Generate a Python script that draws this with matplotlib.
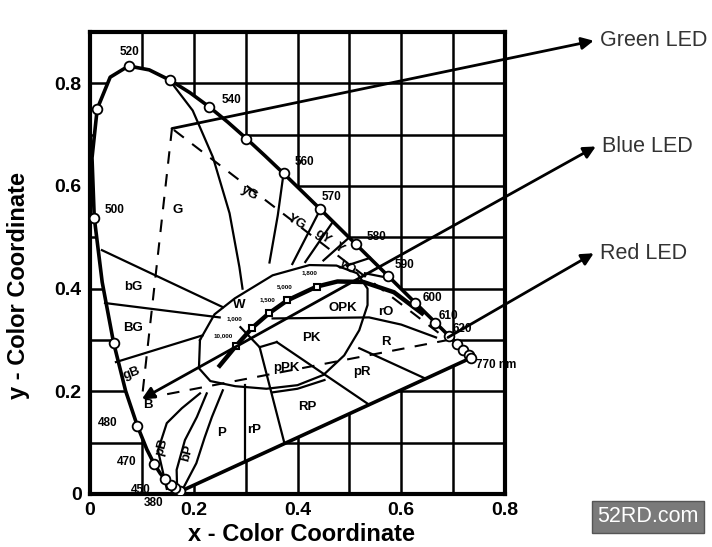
import numpy as np
import matplotlib.pyplot as plt

plt.rcParams['font.family'] = ['Liberation Sans', 'DejaVu Sans']

# CIE 1931 spectral locus (x, y) read along the horseshoe
locus_x = [0.1741, 0.1738, 0.1733, 0.1726, 0.1714, 0.1689, 0.1644, 0.1566, 0.1440, 0.1355,
           0.1241, 0.1096, 0.0913, 0.0687, 0.0454, 0.0235, 0.0082, 0.0039, 0.0139, 0.0389,
           0.0743, 0.1142, 0.1547, 0.1929, 0.2296, 0.2658, 0.3016, 0.3373, 0.3731, 0.4087,
           0.4441, 0.4788, 0.5125, 0.5448, 0.5752, 0.6029, 0.6270, 0.6482, 0.6658, 0.6915,
           0.7079, 0.7190, 0.7260, 0.7300, 0.7334, 0.7347]
locus_y = [0.0050, 0.0049, 0.0048, 0.0048, 0.0051, 0.0069, 0.0109, 0.0177, 0.0297, 0.0399,
           0.0578, 0.0868, 0.1327, 0.2007, 0.2950, 0.4127, 0.5384, 0.6548, 0.7502, 0.8120,
           0.8338, 0.8262, 0.8059, 0.7816, 0.7543, 0.7243, 0.6923, 0.6589, 0.6245, 0.5896,
           0.5547, 0.5202, 0.4866, 0.4544, 0.4242, 0.3965, 0.3725, 0.3514, 0.3340, 0.3083,
           0.2920, 0.2809, 0.2740, 0.2700, 0.2666, 0.2653]

# open circles on the locus
dot_x = [0.1741, 0.1644, 0.1566, 0.1440, 0.1241, 0.0913, 0.0454, 0.0082, 0.0139, 0.0743, 0.1547,
         0.2296, 0.3016, 0.3731, 0.4441, 0.5125, 0.5752, 0.6270, 0.6658, 0.6915, 0.7079,
         0.7190, 0.7300, 0.7347]
dot_y = [0.0050, 0.0109, 0.0177, 0.0297, 0.0578, 0.1327, 0.2950, 0.5384, 0.7502, 0.8338, 0.8059,
         0.7543, 0.6923, 0.6245, 0.5547, 0.4866, 0.4242, 0.3725, 0.3340, 0.3083, 0.2920,
         0.2809, 0.2700, 0.2653]

# wavelength labels
wl_text = ['520', '540', '560', '570', '580', '590', '600', '610', '620', '770 nm',
           '500', '480', '470', '450', '380']
wl_x = [0.077, 0.273, 0.413, 0.465, 0.552, 0.606, 0.66, 0.69, 0.718, 0.745,
        0.048, 0.035, 0.07, 0.098, 0.123]
wl_y = [0.862, 0.767, 0.646, 0.578, 0.50, 0.446, 0.381, 0.346, 0.322, 0.251,
        0.553, 0.138, 0.062, 0.008, -0.018]

# colour region names
reg_text = ['G', 'yG', 'YG', 'gY', 'Y', 'yO', 'rO', 'OPK', 'PK', 'R', 'pPK', 'pR',
            'RP', 'rP', 'P', 'bP', 'pB', 'B', 'gB', 'BG', 'bG', 'W']
reg_x = [0.169, 0.308, 0.398, 0.448, 0.481, 0.496, 0.571, 0.487, 0.427, 0.571, 0.379, 0.525,
         0.419, 0.317, 0.254, 0.187, 0.138, 0.112, 0.081, 0.083, 0.083, 0.288]
reg_y = [0.553, 0.586, 0.529, 0.500, 0.479, 0.442, 0.354, 0.362, 0.303, 0.296, 0.245, 0.237,
         0.169, 0.125, 0.119, 0.080, 0.091, 0.173, 0.235, 0.323, 0.403, 0.368]
reg_rot = [0, -30, -30, -35, -35, -35, 0, 0, 0, 0, 0, 0,
           0, 0, 0, 75, 75, 0, 20, 0, 0, 0]

# colour temperature labels
temp_text = ['1,800', '5,000', '1,500', '1,000', '10,000']
temp_x = [0.423, 0.375, 0.342, 0.279, 0.256]
temp_y = [0.432, 0.403, 0.379, 0.342, 0.309]

# Planckian locus
planck_x = [0.25, 0.281, 0.313, 0.345, 0.38, 0.437, 0.477, 0.527, 0.586, 0.64]
planck_y = [0.25, 0.288, 0.324, 0.352, 0.377, 0.404, 0.414, 0.413, 0.393, 0.352]

# white / pink loop
loop_x = [0.212, 0.24, 0.279, 0.352, 0.423, 0.475, 0.515, 0.535, 0.535, 0.519, 0.49, 0.45,
          0.40, 0.34, 0.28, 0.232, 0.21, 0.212]
loop_y = [0.30, 0.35, 0.381, 0.426, 0.446, 0.445, 0.43, 0.40, 0.368, 0.319, 0.27, 0.232,
          0.212, 0.205, 0.21, 0.22, 0.245, 0.30]

# region boundaries
bounds = [
    ([0.158, 0.198, 0.237, 0.269, 0.288, 0.294], [0.80, 0.747, 0.656, 0.547, 0.442, 0.40]),
    ([0.3731, 0.362, 0.346], [0.6245, 0.543, 0.451]),
    ([0.4441, 0.39], [0.5547, 0.448]),
    ([0.468, 0.415], [0.530, 0.452]),
    ([0.50, 0.45], [0.50, 0.455]),
    ([0.54, 0.495], [0.46, 0.445]),
    ([0.58, 0.53], [0.42, 0.43]),
    ([0.023, 0.256], [0.475, 0.364]),
    ([0.029, 0.25], [0.372, 0.344]),
    ([0.05, 0.217], [0.257, 0.309]),
    ([0.148, 0.131, 0.148, 0.177, 0.212], [0.01, 0.085, 0.138, 0.167, 0.196]),
    ([0.168, 0.167, 0.183, 0.206, 0.225], [0.008, 0.047, 0.105, 0.150, 0.196]),
    ([0.178, 0.205, 0.221, 0.235, 0.256], [0.008, 0.06, 0.11, 0.15, 0.202]),
    ([0.298, 0.298], [0.212, 0.062]),
    ([0.327, 0.375], [0.286, 0.098]),
    ([0.29, 0.327, 0.36], [0.325, 0.286, 0.296]),
    ([0.36, 0.538], [0.296, 0.174]),
    ([0.352, 0.40, 0.452], [0.198, 0.205, 0.222]),
    ([0.519, 0.644], [0.284, 0.226]),
    ([0.352, 0.538, 0.6, 0.667], [0.342, 0.344, 0.33, 0.305]),
]

# dashed gamut triangle (G, B, R vertices)
tri_x = [0.158, 0.10, 0.69, 0.158]
tri_y = [0.712, 0.185, 0.30, 0.712]

# LED callouts
led_text = ['Green LED', 'Blue LED', 'Red LED']
led_start_x = [0.158, 0.10, 0.69]
led_start_y = [0.712, 0.185, 0.305]
led_tip_x = [0.971, 0.975, 0.971]
led_tip_y = [0.883, 0.677, 0.469]

fig = plt.figure(figsize=(7.12, 5.47), dpi=100)
ax = fig.add_axes([0.1264, 0.0969, 0.5829, 0.8446])
ax.set_xlim(0, 0.8)
ax.set_ylim(0, 0.9)
ax.set_xticks([0, 0.2, 0.4, 0.6, 0.8])
ax.set_xticklabels(['0', '0.2', '0.4', '0.6', '0.8'])
ax.set_yticks([0, 0.2, 0.4, 0.6, 0.8])
ax.set_yticklabels(['0', '0.2', '0.4', '0.6', '0.8'])
for v in np.arange(0.1, 0.8, 0.1):
    ax.axvline(v, color='k', lw=1.8, zorder=0.5)
for v in np.arange(0.1, 0.9, 0.1):
    ax.axhline(v, color='k', lw=1.8, zorder=0.5)
ax.tick_params(length=0, labelsize=14, pad=6)
for lab in ax.get_xticklabels() + ax.get_yticklabels():
    lab.set_fontweight('bold')
for s in ax.spines.values():
    s.set_linewidth(3)

# white horseshoe on top of the grid
ax.fill(locus_x + [locus_x[0]], locus_y + [locus_y[0]], color='white', zorder=1)
ax.plot(locus_x + [locus_x[0]], locus_y + [locus_y[0]], color='k', lw=2.6, zorder=3)
ax.plot(dot_x, dot_y, 'o', ms=7, mfc='white', mec='k', mew=1.3, zorder=5)

for bx, by in bounds:
    ax.plot(bx, by, color='k', lw=1.6, zorder=2)
ax.plot(loop_x, loop_y, color='k', lw=1.6, zorder=2)
ax.plot(planck_x, planck_y, color='k', lw=3.2, zorder=3)
ax.plot(planck_x[1:6], planck_y[1:6], 's', ms=5, mfc='white', mec='k', mew=1.5, zorder=4)
ax.plot(tri_x, tri_y, color='k', lw=1.5, ls=(0, (6, 5)), zorder=2)

for t, x, y in zip(wl_text, wl_x, wl_y):
    ax.text(x, y, t, fontsize=8.5, fontweight='bold', ha='left' if t == '770 nm' else 'center',
            va='center', zorder=6, clip_on=False)
for t, x, y, r in zip(reg_text, reg_x, reg_y, reg_rot):
    ax.text(x, y, t, fontsize=9.5, fontweight='bold', ha='center', va='center', rotation=r,
            zorder=6)
for t, x, y in zip(temp_text, temp_x, temp_y):
    ax.text(x, y, t, fontsize=4.5, fontweight='bold', ha='center', va='center', zorder=6)

for i, t in enumerate(led_text):
    style = '<|-|>' if t == 'Blue LED' else '-|>'
    ax.annotate('', xy=(led_tip_x[i], led_tip_y[i]), xytext=(led_start_x[i], led_start_y[i]),
                arrowprops=dict(arrowstyle=style, color='k', lw=2, mutation_scale=18,
                                shrinkA=0, shrinkB=0),
                annotation_clip=False, zorder=7)
    ax.text(led_tip_x[i] + 0.012, led_tip_y[i], t, fontsize=15.5, color='#333333',
            ha='left', va='center', clip_on=False)

ax.set_xlabel('x - Color Coordinate', fontsize=17, fontweight='bold')
ax.xaxis.set_label_coords(0.51, -0.063)
ax.set_ylabel('y - Color Coordinate', fontsize=17, fontweight='bold')
ax.yaxis.set_label_coords(-0.145, 0.452)

fig.text(0.910, 0.055, '52RD.com', fontsize=15.5, color='white', ha='center', va='center',
         bbox=dict(boxstyle='square,pad=0.25', fc='#7a7a7a', ec='#555555'))

fig.savefig('out.png', dpi=100)
